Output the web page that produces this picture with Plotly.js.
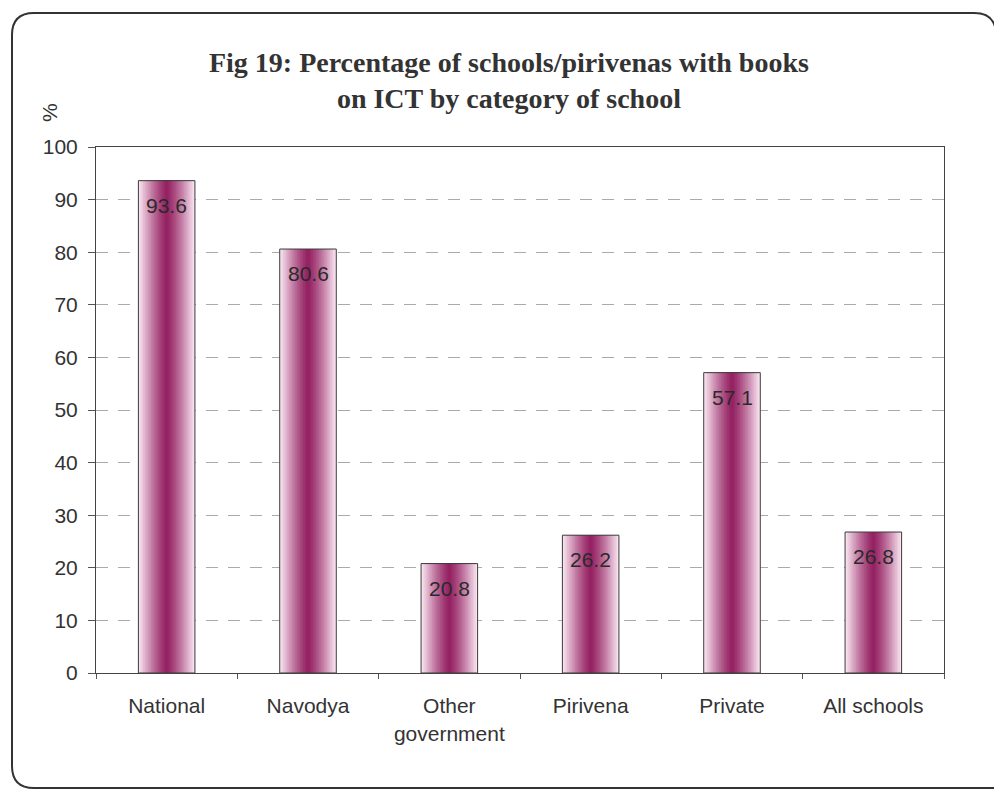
<!DOCTYPE html>
<html>
<head>
<meta charset="utf-8">
<script src="https://cdn.plot.ly/plotly-3.0.1.min.js"></script>
<style>
  html, body { margin: 0; padding: 0; background: #ffffff; }
  #chart { width: 994px; height: 789px; }
</style>
</head>
<body>
<div id="chart"></div>
<script>
// School categories and share (%) of schools/pirivenas holding ICT books
const categories = ['National', 'Navodya', 'Other<br>government', 'Pirivena', 'Private', 'All schools'];
const percentages = [93.6, 80.6, 20.8, 26.2, 57.1, 26.8];
const yTicks = [0, 10, 20, 30, 40, 50, 60, 70, 80, 90, 100];

// Plot-area geometry in pixels (used for margins and the rounded frame)
const W = 994, H = 789;
const M = { l: 96, r: 50, t: 147, b: 116 };
const plotW = W - M.l - M.r, plotH = H - M.t - M.b;
const px = x => (x - M.l) / plotW;
const py = y => (H - M.b - y) / plotH;

// Cylinder shading: stacked bars of shrinking width, light at the rim, dark in the middle
const BAR_W = 0.40;
const LAYERS = 18;
const light = [249, 228, 240];
const dark = [146, 30, 96];
function mix(t) {
  const c = light.map((l, k) => Math.round(dark[k] + (l - dark[k]) * t));
  return `rgb(${c[0]},${c[1]},${c[2]})`;
}

const traces = [];
for (let i = 0; i < LAYERS; i++) {
  const f = 1 - i / LAYERS;          // 1 at rim, -> 0 at centre
  traces.push({
    type: 'bar',
    x: categories,
    y: percentages,
    width: BAR_W * f,
    marker: { color: mix(Math.pow(f, 1.25)), line: { width: 0 } },
    hoverinfo: 'skip',
    showlegend: false
  });
}
// Outline on top of the shading
traces.push({
  type: 'bar',
  x: categories,
  y: percentages,
  width: BAR_W,
  marker: { color: 'rgba(0,0,0,0)', line: { width: 1, color: '#3a3a3a' } },
  hoverinfo: 'x+y',
  showlegend: false
});

// Rounded outer frame: left side, top and bottom edges, with rounded corners
function framePath(x0, y0, x1, y1, r) {
  const P = (x, y) => `${px(x)},${py(y)}`;
  return `M ${P(x1, y0 + r + 12)} L ${P(x1, y0 + r)} Q ${P(x1, y0)} ${P(x1 - r, y0)} ` +
         `L ${P(x0 + r, y0)} Q ${P(x0, y0)} ${P(x0, y0 + r)} ` +
         `L ${P(x0, y1 - r)} Q ${P(x0, y1)} ${P(x0 + r, y1)} L ${P(x1, y1)}`;
}

const font = { family: 'Liberation Sans, Arial, sans-serif', size: 21, color: '#333333' };

// Value labels just under each bar top
const valueLabels = categories.map((c, i) => ({
  x: c,
  y: percentages[i],
  xref: 'x', yref: 'y',
  text: percentages[i].toFixed(1),
  showarrow: false,
  xanchor: 'center',
  yanchor: 'top',
  yshift: -11,
  font: { family: 'Liberation Sans, Arial, sans-serif', size: 21, color: '#2a2a2a' }
}));

const layout = {
  width: W,
  height: H,
  margin: M,
  paper_bgcolor: '#ffffff',
  plot_bgcolor: '#ffffff',
  barmode: 'overlay',
  font: font,
  title: {
    text: '<b>Fig 19: Percentage of schools/pirivenas with books<br>on ICT by category of school</b>',
    font: { family: 'Liberation Serif, Times New Roman, serif', size: 28, color: '#333333' },
    x: 0.512,
    xanchor: 'center',
    y: 0.909,
    yanchor: 'top'
  },
  xaxis: {
    type: 'category',
    tickson: 'boundaries',
    ticks: 'outside',
    ticklen: 5,
    tickcolor: '#555555',
    showline: true,
    linecolor: '#444444',
    linewidth: 1,
    mirror: true,
    showgrid: false,
    ticklabelstandoff: 14,
    tickfont: font,
    fixedrange: true
  },
  yaxis: {
    range: [0, 100],
    tickvals: yTicks,
    ticks: 'outside',
    ticklen: 7,
    tickcolor: '#555555',
    showline: true,
    linecolor: '#444444',
    linewidth: 1,
    mirror: true,
    showgrid: true,
    gridcolor: '#aaaaaa',
    gridwidth: 1,
    griddash: '12px,10px',
    zeroline: false,
    ticklabelstandoff: 6,
    tickfont: font,
    fixedrange: true
  },
  annotations: [{
    text: '%',
    xref: 'paper', yref: 'paper',
    x: px(49), y: py(113),
    xanchor: 'center', yanchor: 'middle',
    textangle: -90,
    showarrow: false,
    font: font
  }].concat(valueLabels),
  shapes: [{
    type: 'path',
    xref: 'paper', yref: 'paper',
    path: framePath(12, 13, 996, 788, 22),
    line: { color: '#333333', width: 2 },
    fillcolor: 'rgba(0,0,0,0)',
    layer: 'below'
  }]
};

Plotly.newPlot('chart', traces, layout, { displayModeBar: false, staticPlot: true });
</script>
</body>
</html>
